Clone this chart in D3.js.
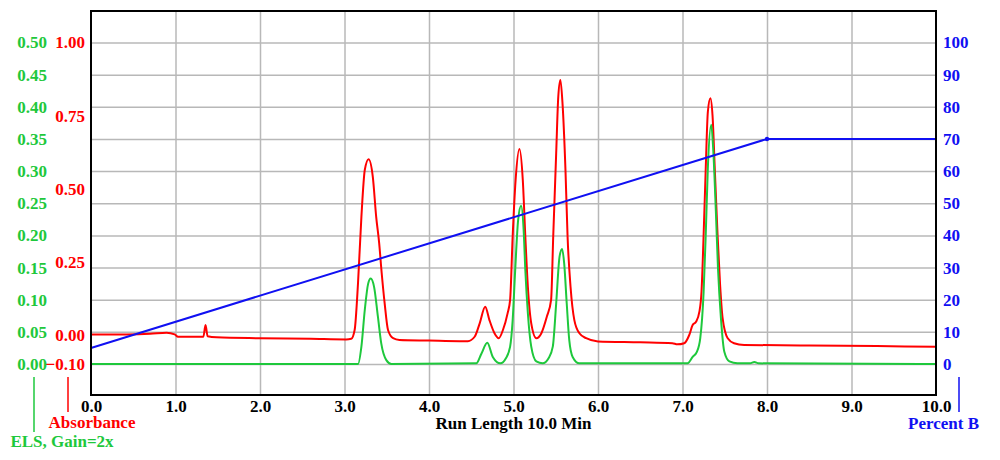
<html lang="en">
<head>
<meta charset="UTF-8">
<title>Chromatogram</title>
<script src="https://cdn.jsdelivr.net/npm/d3@7"></script>
<style>
    body { margin: 0; background: #fff; }
    text { font-family: "Liberation Serif", "Times New Roman", serif; font-weight: bold; font-size: 17px; }
</style>
</head>
<body>
<svg id="chart" width="1000" height="460"></svg>
<script>
// ---- data ----
const timeTicks = [0, 1, 2, 3, 4, 5, 6, 7, 8, 9, 10];
const elsTicks = [0, 0.05, 0.10, 0.15, 0.20, 0.25, 0.30, 0.35, 0.40, 0.45, 0.50];
const absTicks = [1.00, 0.75, 0.50, 0.25, 0.00, -0.10];
const pctTicks = [0, 10, 20, 30, 40, 50, 60, 70, 80, 90, 100];

// [minutes, absorbance]
const absorbance = [
    [0.00, 0.002], [0.42, 0.002], [0.70, 0.004], [0.895, 0.008], [0.99, 0.002], [1.03, -0.006],
    [1.33, -0.006], [1.355, 0.034], [1.38, -0.004], [1.485, -0.008], [2.00, -0.011], [2.60, -0.013],
    [3.02, -0.015], [3.08, -0.013], [3.12, 0.017], [3.16, 0.178], [3.20, 0.404], [3.24, 0.564],
    [3.285, 0.601], [3.335, 0.541], [3.375, 0.404], [3.41, 0.315], [3.44, 0.212], [3.475, 0.109],
    [3.515, 0.017], [3.575, -0.011], [3.65, -0.017], [4.00, -0.019], [4.36, -0.021], [4.46, -0.021],
    [4.54, -0.006], [4.60, 0.040], [4.665, 0.097], [4.715, 0.051], [4.775, 0.006], [4.825, -0.011],
    [4.875, 0.017], [4.93, 0.074], [4.96, 0.120], [4.99, 0.336], [5.025, 0.530], [5.07, 0.636],
    [5.11, 0.530], [5.14, 0.336], [5.17, 0.165], [5.21, 0.040], [5.27, -0.011], [5.33, 0.006],
    [5.395, 0.063], [5.445, 0.120], [5.47, 0.336], [5.505, 0.621], [5.53, 0.815], [5.555, 0.872],
    [5.58, 0.792], [5.615, 0.564], [5.64, 0.336], [5.675, 0.165], [5.72, 0.051], [5.78, 0.006],
    [5.86, -0.011], [6.00, -0.022], [6.50, -0.025], [6.88, -0.028], [6.94, -0.032], [7.02, -0.028],
    [7.08, 0.000], [7.12, 0.034], [7.16, 0.045], [7.20, 0.080], [7.225, 0.148], [7.25, 0.342],
    [7.275, 0.570], [7.30, 0.763], [7.33, 0.809], [7.355, 0.752], [7.385, 0.547], [7.415, 0.342],
    [7.445, 0.171], [7.475, 0.057], [7.535, -0.011], [7.61, -0.028], [7.73, -0.034], [8.50, -0.036],
    [9.30, -0.038], [10.0, -0.040]
];

// [minutes, ELS signal]
const els = [
    [0, 0], [3.16, 0], [3.20, 0.027], [3.24, 0.084], [3.28, 0.125], [3.31, 0.133], [3.35, 0.120],
    [3.395, 0.074], [3.435, 0.032], [3.495, 0.006], [3.555, 0], [4.56, 0.001], [4.62, 0.016],
    [4.69, 0.033], [4.755, 0.011], [4.845, 0.001], [4.91, 0.009], [4.96, 0.027], [4.99, 0.068],
    [5.02, 0.146], [5.055, 0.224], [5.09, 0.246], [5.12, 0.208], [5.14, 0.146], [5.17, 0.079],
    [5.21, 0.027], [5.27, 0.004], [5.345, 0.001], [5.415, 0.009], [5.465, 0.027], [5.505, 0.094],
    [5.545, 0.167], [5.575, 0.179], [5.60, 0.156], [5.63, 0.094], [5.66, 0.037], [5.70, 0.011],
    [5.78, 0.001], [7.06, 0.001], [7.12, 0.011], [7.17, 0.019], [7.21, 0.040], [7.25, 0.112],
    [7.275, 0.201], [7.30, 0.305], [7.34, 0.372], [7.365, 0.330], [7.395, 0.237], [7.42, 0.149],
    [7.455, 0.071], [7.495, 0.019], [7.555, 0.004], [7.65, 0.001], [7.80, 0.001], [7.85, 0.003],
    [7.90, 0.001], [10, 0]
];

// [minutes, percent B]
const gradient = [[0, 5], [8, 70], [10, 70]];

const RED = '#ff0000', GREEN = '#1ec83c', BLUE = '#1010f2', GRID = '#b8b8b8';

const svg = d3.select('#chart');
const plotL = 91, plotR = 936, plotT = 11, plotB = 395;

const x = d3.scaleLinear().domain([0, 10]).range([plotL, plotR]);
const yPct = d3.scaleLinear().domain([0, 100]).range([364, 42.5]);
const yEls = d3.scaleLinear().domain([0, 0.5]).range([364, 42.5]);
const yAbs = d3.scaleLinear().domain([0, 1]).range([335, 42.5]);

// grid
svg.append('g')
    .attr('transform', `translate(0,${plotB})`)
    .call(d3.axisBottom(x).tickValues(timeTicks.slice(1, -1)).tickSize(-(plotB - plotT)).tickFormat(''))
    .call(g => g.select('.domain').remove())
    .call(g => g.selectAll('line').attr('stroke', GRID).attr('stroke-width', 1.5));

svg.append('g')
    .attr('transform', `translate(${plotL},0)`)
    .call(d3.axisLeft(yPct).tickValues(pctTicks).tickSize(-(plotR - plotL)).tickFormat(''))
    .call(g => g.select('.domain').remove())
    .call(g => g.selectAll('line').attr('stroke', GRID).attr('stroke-width', 1.5));

// traces
const line = (ys) => d3.line()
    .x(d => x(d[0]))
    .y(d => ys(d[1]))
    .curve(d3.curveMonotoneX);

svg.append('path').datum(absorbance)
    .attr('d', line(yAbs)).attr('fill', 'none').attr('stroke', RED).attr('stroke-width', 2);
svg.append('path').datum(els)
    .attr('d', line(yEls)).attr('fill', 'none').attr('stroke', GREEN).attr('stroke-width', 2);
svg.append('path').datum(gradient)
    .attr('d', d3.line().x(d => x(d[0])).y(d => yPct(d[1]))).attr('fill', 'none')
    .attr('stroke', BLUE).attr('stroke-width', 2);
svg.selectAll('.gpt').data(gradient.slice(1, 2)).enter().append('circle')
    .attr('cx', d => x(d[0])).attr('cy', d => yPct(d[1])).attr('r', 2.2).attr('fill', BLUE);

// frame
svg.append('rect')
    .attr('x', plotL).attr('y', plotT).attr('width', plotR - plotL).attr('height', plotB - plotT)
    .attr('fill', 'none').attr('stroke', '#000').attr('stroke-width', 2);

// axis labels
const labelAxis = (axis, tx, ty, color) => svg.append('g')
    .attr('transform', `translate(${tx},${ty})`)
    .call(axis.tickSize(0).tickPadding(0))
    .call(g => g.select('.domain').remove())
    .call(g => g.selectAll('text')
        .attr('fill', color)
        .style('font-family', '"Liberation Serif", "Times New Roman", serif')
        .style('font-weight', 'bold')
        .style('font-size', '17px'));

labelAxis(d3.axisBottom(x).tickValues(timeTicks).tickFormat(d3.format('.1f')), 0, 400, '#000');
labelAxis(d3.axisLeft(yEls).tickValues(elsTicks).tickFormat(d3.format('.2f')), 47, 0, GREEN);
labelAxis(d3.axisLeft(yAbs).tickValues(absTicks).tickFormat(d3.format('.2f')), 85, 0, RED);
labelAxis(d3.axisRight(yPct).tickValues(pctTicks).tickFormat(d3.format('d')), 943, 0, BLUE);

// legend markers and titles
svg.append('line').attr('x1', 34).attr('x2', 34).attr('y1', 377).attr('y2', 432)
    .attr('stroke', GREEN).attr('stroke-width', 1.5);
svg.append('line').attr('x1', 68).attr('x2', 68).attr('y1', 377).attr('y2', 412)
    .attr('stroke', RED).attr('stroke-width', 1.5);
svg.append('line').attr('x1', 959).attr('x2', 959).attr('y1', 377).attr('y2', 412)
    .attr('stroke', BLUE).attr('stroke-width', 1.5);

svg.append('text').attr('x', 92).attr('y', 428).attr('text-anchor', 'middle')
    .attr('fill', RED).text('Absorbance');
svg.append('text').attr('x', 62).attr('y', 447).attr('text-anchor', 'middle')
    .attr('fill', GREEN).text('ELS, Gain=2x');
svg.append('text').attr('x', 943.5).attr('y', 429).attr('text-anchor', 'middle')
    .attr('fill', BLUE).text('Percent B');
svg.append('text').attr('x', (plotL + plotR) / 2).attr('y', 429).attr('text-anchor', 'middle')
    .attr('fill', '#000').text('Run Length 10.0 Min');
</script>
</body>
</html>
